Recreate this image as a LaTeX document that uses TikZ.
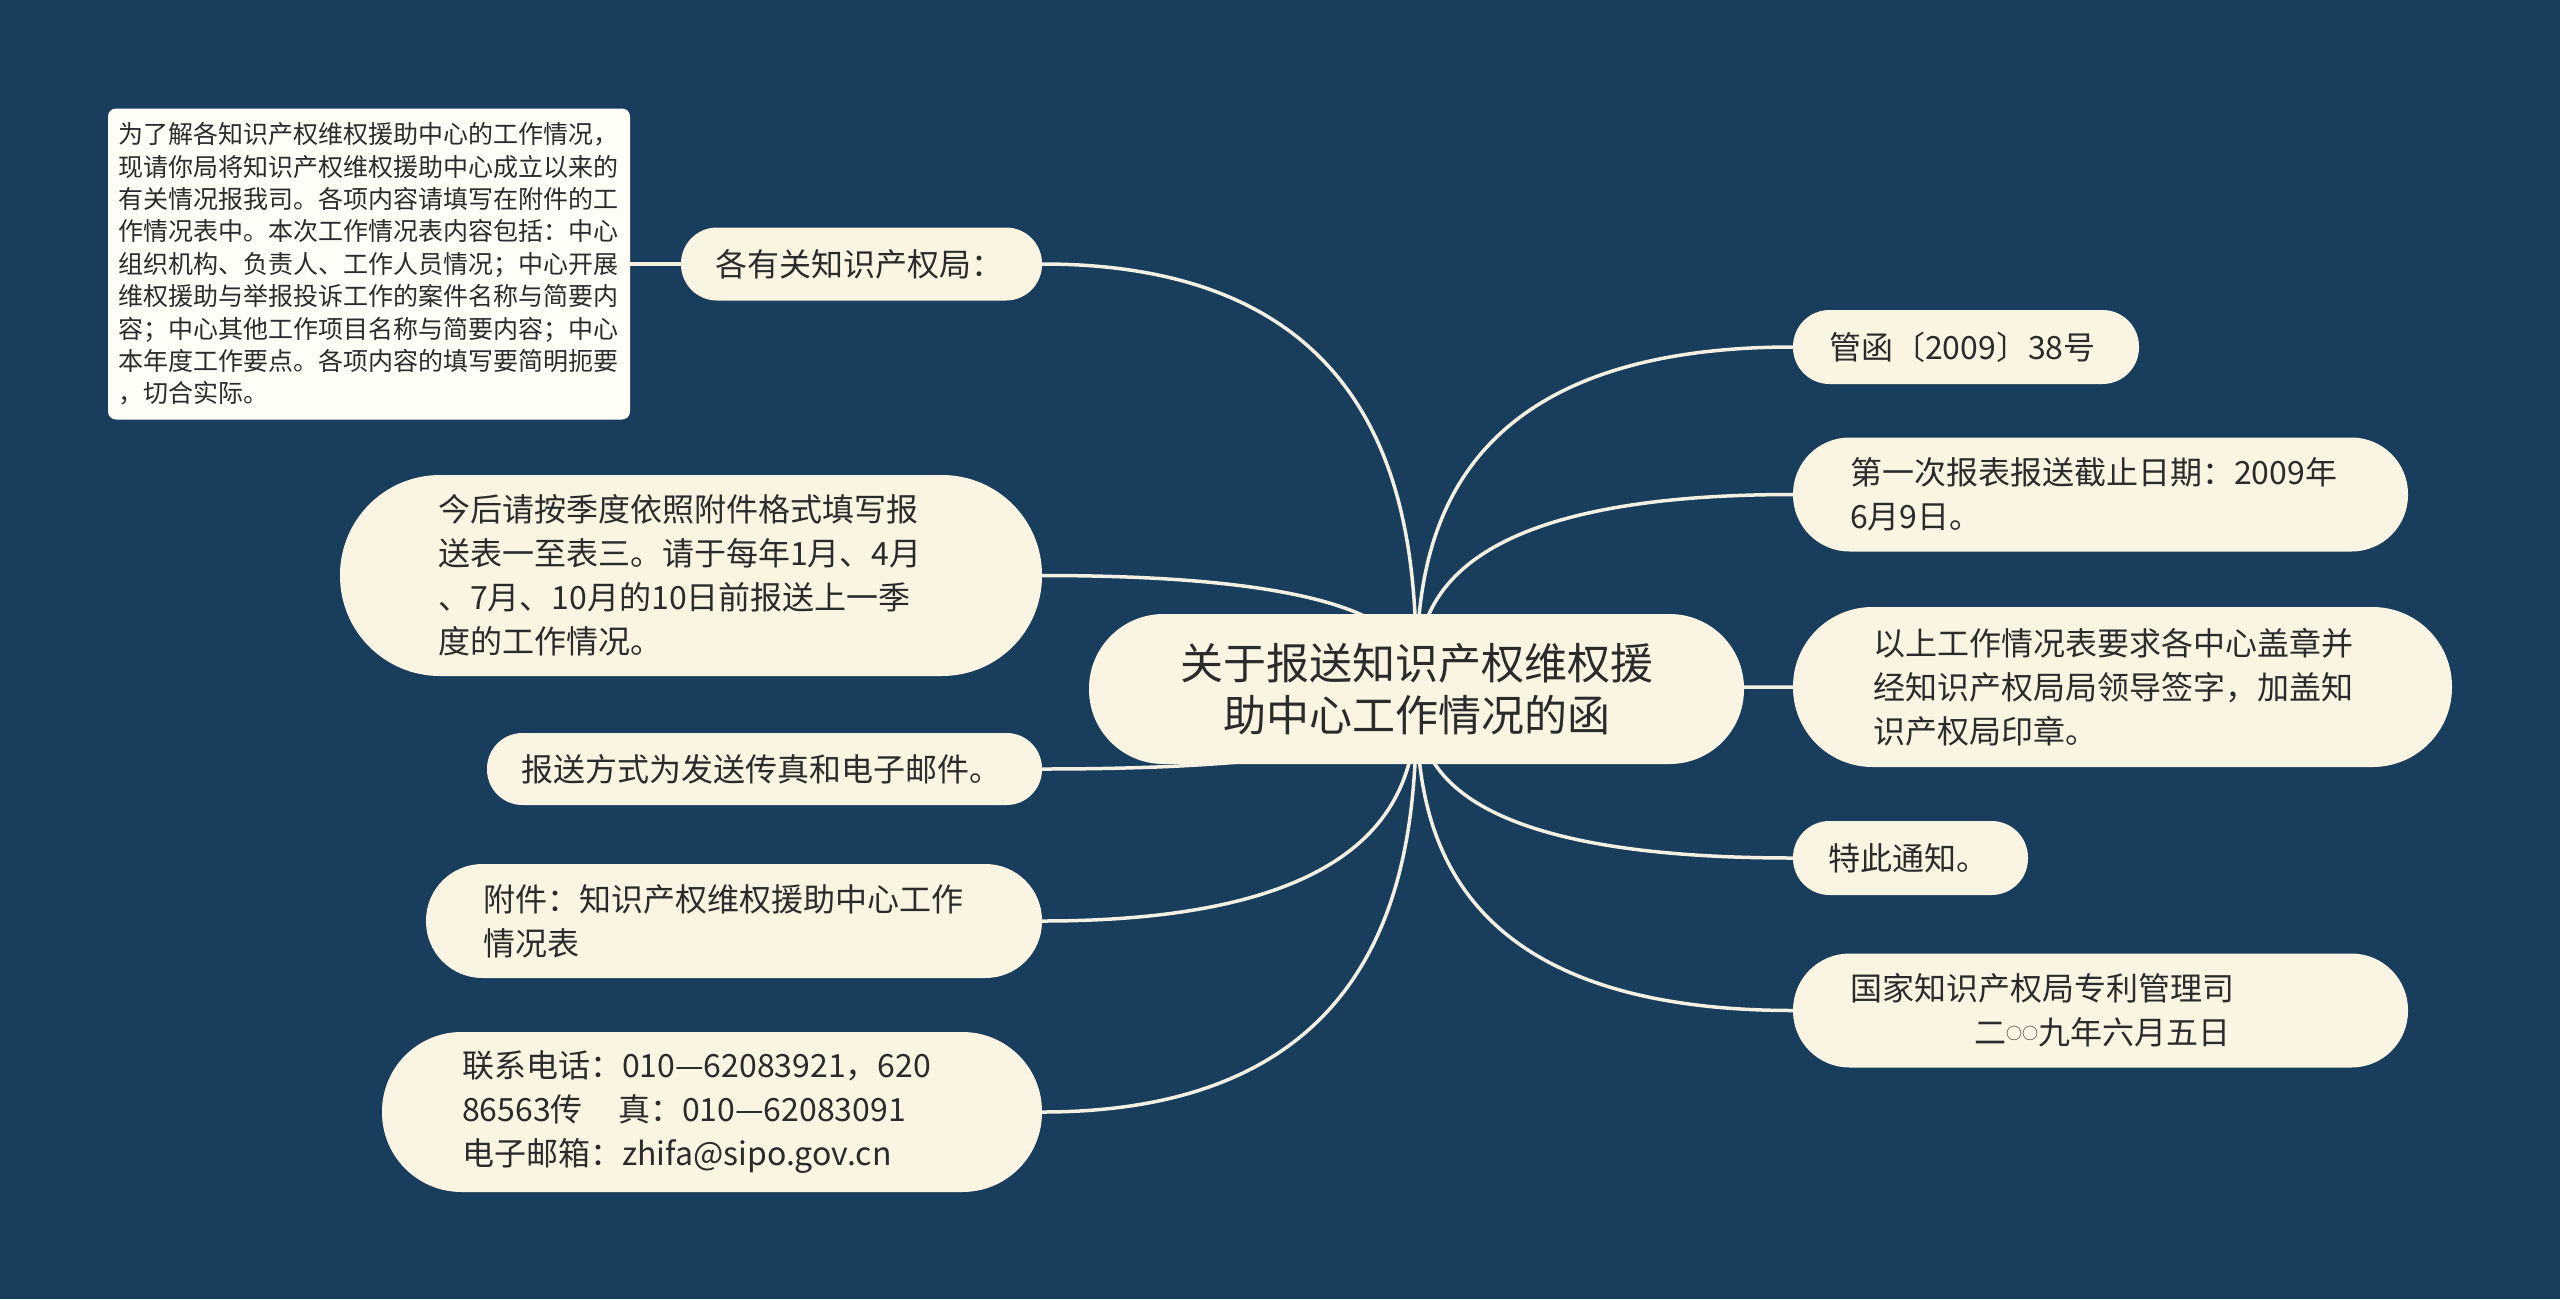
\documentclass[tikz,border=0pt]{standalone}
\usepackage{fontspec}
\setmainfont{Noto Sans CJK SC}
\usetikzlibrary{calc}
\definecolor{bgc}{HTML}{193D5D}
\definecolor{boxc}{HTML}{FAF5E2}
\definecolor{notec}{HTML}{FFFEF6}
\definecolor{txt}{HTML}{2B2B2B}
\definecolor{linec}{HTML}{F3F0E2}
\pgfdeclarelayer{bgl}
\pgfdeclarelayer{linel}
\pgfsetlayers{bgl,linel,main}
\tikzset{
  pill/.style n args={4}{rectangle, fill=boxc, text=txt, align=left,
    inner ysep=0pt, text width=#1pt, minimum height=#2pt, inner xsep=#3pt,
    rounded corners=#4pt, font=\fontsize{32}{44}\selectfont},
  rootbox/.style={rectangle, fill=boxc, text=txt, align=center, inner ysep=0pt,
    text width=535pt, inner xsep=60pt, minimum height=150pt, rounded corners=74.5pt,
    font=\fontsize{43}{52}\selectfont},
  notebox/.style={rectangle, fill=notec, text=txt, align=left, inner ysep=0pt,
    text width=502pt, inner xsep=10pt, minimum height=311pt, rounded corners=8pt,
    font=\fontsize{25}{32.4}\selectfont},
  conn/.style={draw=linec, line width=3.5pt},
}
\begin{document}
\begin{tikzpicture}[x=1pt,y=-1pt]
\begin{pgfonlayer}{bgl}
\fill[bgc] (0,0) rectangle (2560,1299);
\end{pgfonlayer}
\useasboundingbox (0,0) rectangle (2560,1299);

\node[rootbox] (root) at (1416.5,689) {关于报送知识产权维权援\\助中心工作情况的函};

\node[notebox] (note) at (369,264) {为了解各知识产权维权援助中心的工作情况，\\现请你局将知识产权维权援助中心成立以来的\\有关情况报我司。各项内容请填写在附件的工\\作情况表中。本次工作情况表内容包括：中心\\组织机构、负责人、工作人员情况；中心开展\\维权援助与举报投诉工作的案件名称与简要内\\容；中心其他工作项目名称与简要内容；中心\\本年度工作要点。各项内容的填写要简明扼要\\，切合实际。};

\node[pill={293}{73}{34}{36}] (n1) at (861.5,264) {各有关知识产权局：};
\node[pill={506}{201}{98}{100}] (n2) at (691,575.5) {今后请按季度依照附件格式填写报\\送表一至表三。请于每年1月、4月\\、7月、10月的10日前报送上一季\\度的工作情况。};
\node[pill={487}{72}{34}{35.5}] (n3) at (764.5,769) {报送方式为发送传真和电子邮件。};
\node[pill={502}{114}{57}{56.5}] (n4) at (734,921) {附件：知识产权维权援助中心工作\\情况表};
\node[pill={500}{160}{80}{79.5}] (n5) at (712,1112) {联系电话：010—62083921，620\\86563传\hspace{1.1em}真：010—62083091\\电子邮箱：zhifa@sipo.gov.cn};

\node[pill={274}{74}{36}{36.5}] (n6) at (1966,347) {管函〔2009〕38号};
\node[pill={501}{114}{57}{56.5}] (n7) at (2100.5,494.5) {第一次报表报送截止日期：2009年\\6月9日。};
\node[pill={499}{160}{80}{79.5}] (n8) at (2122.5,687) {以上工作情况表要求各中心盖章并\\经知识产权局局领导签字，加盖知\\识产权局印章。};
\node[pill={165}{74}{35}{36.5}] (n9) at (1910.5,858) {特此通知。};
\node[pill={501}{114}{57}{56.5}] (n10) at (2100.5,1010.5) {国家知识产权局专利管理司\\\hspace*{124pt}二\raisebox{5pt}{\fontsize{16}{16}\selectfont ○○}九年六月五日};

\begin{pgfonlayer}{linel}
\draw[conn] (note.east) -- (n1.west);
\foreach \c in {n1,n2,n3,n4,n5}{
  \draw[conn] (root.center) .. controls ($(root.center)!0.32!(root.center |- \c.east)$) and (root.center |- \c.east) .. (\c.east);
}
\foreach \c in {n6,n7,n8,n9,n10}{
  \draw[conn] (root.center) .. controls ($(root.center)!0.32!(root.center |- \c.west)$) and (root.center |- \c.west) .. (\c.west);
}
\end{pgfonlayer}
\end{tikzpicture}
\end{document}
